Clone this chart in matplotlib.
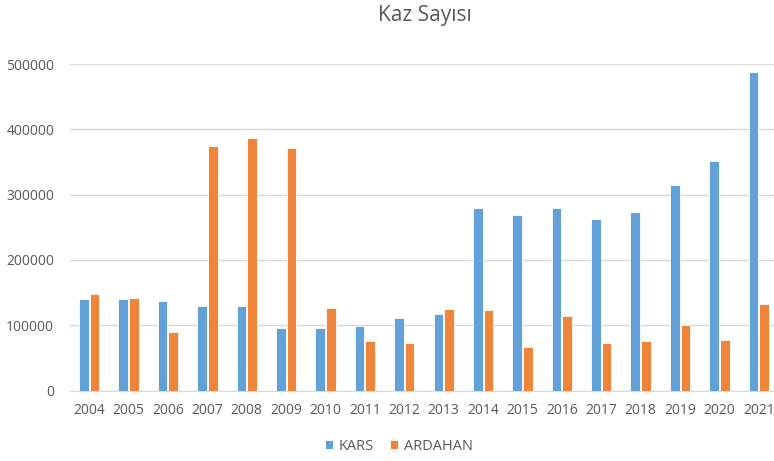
import matplotlib
matplotlib.use('Agg')
import matplotlib.pyplot as plt
import numpy as np

plt.rcParams['font.family'] = ['Open Sans', 'DejaVu Sans']

years = ['2004', '2005', '2006', '2007', '2008', '2009', '2010', '2011', '2012',
         '2013', '2014', '2015', '2016', '2017', '2018', '2019', '2020', '2021']
kars = [139600, 139600, 137000, 128800, 128800, 95600, 95600, 98200, 110400,
        116600, 279100, 269400, 279100, 262800, 273000, 314400, 351700, 487700]
ardahan = [147200, 141100, 89500, 374200, 387000, 370700, 126800, 75200, 73100,
           124700, 122700, 67000, 114500, 73100, 75200, 99700, 76700, 132900]
y_ticks = [0, 100000, 200000, 300000, 400000, 500000]

blue = '#62A2D8'
orange = '#EF853A'
text_color = '#595959'
grid_color = '#D9D9D9'

fig = plt.figure(figsize=(7.74, 4.61), dpi=100)
ax = fig.add_axes([69.5 / 774, 1 - 390.5 / 461, 709 / 774, 326.5 / 461])

x = np.arange(len(years))
w = 0.245
ax.bar(x - 0.135, kars, w, color=blue, edgecolor='white', linewidth=0.6,
       label='KARS', zorder=3)
ax.bar(x + 0.135, ardahan, w, color=orange, edgecolor='white', linewidth=0.6,
       label='ARDAHAN', zorder=3)

ax.set_xlim(-0.5, len(years) - 0.5)
ax.set_ylim(0, 500000)
ax.set_xticks(x)
ax.set_xticklabels(years)
ax.set_yticks(y_ticks)
ax.set_yticklabels([str(v) for v in y_ticks])
ax.yaxis.grid(True, color=grid_color, linewidth=1, zorder=0)
ax.tick_params(axis='both', length=0, labelsize=10, colors=text_color)
ax.tick_params(axis='x', pad=9)
ax.tick_params(axis='y', pad=11)
for side in ['top', 'right', 'left']:
    ax.spines[side].set_visible(False)
ax.spines['bottom'].set_color(grid_color)

fig.text(425 / 774, 1 - 15 / 461, 'Kaz Sayısı', ha='center', va='center',
         fontsize=15, color=text_color)

fig.legend(loc='center', bbox_to_anchor=(399 / 774, 1 - 446 / 461), ncol=2,
           frameon=False, fontsize=10.5, handlelength=0.55, handleheight=0.55,
           handletextpad=0.4, columnspacing=1.1, labelcolor=text_color)

fig.savefig('out.png', dpi=100)
